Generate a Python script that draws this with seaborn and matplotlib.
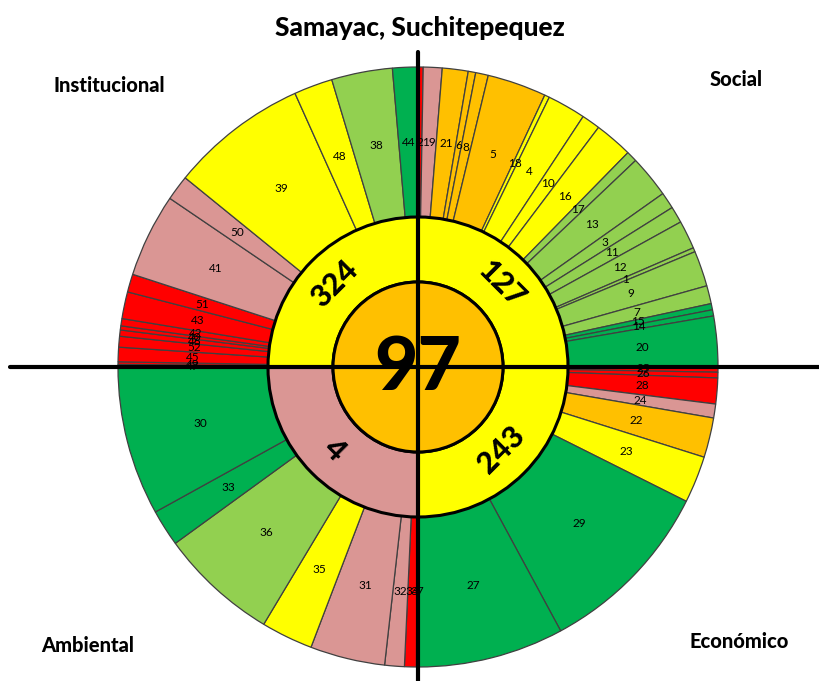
import matplotlib
matplotlib.use("Agg")
import matplotlib.pyplot as plt
import seaborn as sns
import numpy as np

sns.set_style("white")
plt.rcParams['font.family'] = ['Lato', 'DejaVu Sans']
plt.rcParams['text.color'] = 'black'

# colour scale used by the chart
RED, PINK, ORANGE, YELLOW, LGREEN, GREEN = '#FF0000', '#DA9694', '#FFC000', '#FFFF00', '#92D050', '#00B050'

# outer ring: indicator ids, angular share (degrees) and colour, clockwise from the top
social_ids = ['2', '19', '21', '6', '8', '5', '18', '4', '10', '16', '17', '13', '3', '11', '12', '1', '9', '7', '15', '14', '20']
social_vals = [1.0, 3.65, 5.0, 1.45, 2.45, 11.45, 0.95, 7.45, 3.6, 7.4, 2.1, 8.2, 3.2, 3.2, 5.5, 0.8, 6.9, 3.5, 1.2, 1.2, 9.8]
social_cols = [RED, PINK, ORANGE, ORANGE, ORANGE, ORANGE, YELLOW, YELLOW, YELLOW, YELLOW,
               LGREEN, LGREEN, LGREEN, LGREEN, LGREEN, LGREEN, LGREEN, LGREEN, GREEN, GREEN, GREEN]

econ_ids = ['25', '26', '28', '24', '22', '23', '29', '27']
econ_vals = [1.0, 1.1, 5.0, 2.7, 7.7, 9.1, 35.0, 28.4]
econ_cols = [RED, RED, RED, PINK, ORANGE, YELLOW, GREEN, GREEN]

amb_ids = ['37', '34', '32', '31', '35', '36', '33', '30']
amb_vals = [0.3, 2.3, 3.8, 14.5, 10.05, 23.05, 7.1, 28.9]
amb_cols = [RED, RED, PINK, PINK, YELLOW, LGREEN, GREEN, GREEN]

inst_ids = ['47', '49', '45', '52', '46', '40', '42', '43', '51', '41', '50', '39', '48', '38', '44']
inst_vals = [0.5, 0.5, 2.8, 2.1, 1.2, 0.8, 1.4, 5.2, 3.5, 16.2, 4.9, 26.7, 7.5, 11.8, 4.9]
inst_cols = [RED] * 9 + [PINK, PINK, YELLOW, YELLOW, LGREEN, GREEN]

# inner ring (dimensions) and centre
dim_names = ['Social', 'Económico', 'Ambiental', 'Institucional']
dim_vals = [127, 243, 4, 324]
dim_cols = [YELLOW, YELLOW, PINK, YELLOW]
total_val = 97
title = 'Samayac, Suchitepequez'

W, H = 819, 681
cx, cy = 418, H - 367
R_OUT, R_MID, R_IN = 300, 150, 85

fig = plt.figure(figsize=(W / 100, H / 100), dpi=100)
ax = fig.add_axes([0, 0, 1, 1])

outer_ids = social_ids + econ_ids + amb_ids + inst_ids
outer_vals = social_vals + econ_vals + amb_vals + inst_vals
outer_cols = social_cols + econ_cols + amb_cols + inst_cols

wedges, texts = ax.pie(outer_vals, labels=outer_ids, colors=outer_cols, startangle=90,
                       counterclock=False, radius=R_OUT, center=(cx, cy),
                       labeldistance=0.75,
                       wedgeprops=dict(width=R_OUT - R_MID, edgecolor='#404040', linewidth=0.9),
                       textprops=dict(fontsize=8.5, color='black'))
for t in texts:
    t.set_ha('center')
    t.set_va('center')

# inner ring
w2, _ = ax.pie([90, 90, 90, 90], colors=dim_cols, startangle=90, counterclock=False,
               radius=R_MID, center=(cx, cy),
               wedgeprops=dict(width=R_MID - R_IN, edgecolor='black', linewidth=2.2))
r_lab = (R_MID + R_IN) / 2
for w, v in zip(w2, dim_vals):
    mid = (w.theta1 + w.theta2) / 2
    rot = mid - 90
    while rot > 90:
        rot -= 180
    while rot <= -90:
        rot += 180
    x = cx + r_lab * np.cos(np.radians(mid))
    y = cy + r_lab * np.sin(np.radians(mid))
    ax.text(x, y, str(v), rotation=rot, ha='center', va='center', rotation_mode='anchor',
            fontsize=22, fontweight='black')

# centre disc
ax.pie([1], colors=[ORANGE], radius=R_IN, center=(cx, cy),
       wedgeprops=dict(edgecolor='black', linewidth=2.2))
ax.text(cx, cy - 2, str(total_val), ha='center', va='center', fontsize=54, fontweight='black')

# quadrant cross
ax.plot([10, W], [cy, cy], color='black', lw=3, zorder=5)
ax.plot([cx, cx], [0, H - 52], color='black', lw=3, zorder=5)

ax.text(W / 2 + 10, H - 28, title, ha='center', va='center', fontsize=19, fontweight='black')
ax.text(109, H - 85, dim_names[3], ha='center', va='center', fontsize=14.5, fontweight='black')
ax.text(736, H - 80, dim_names[0], ha='center', va='center', fontsize=14.5, fontweight='black')
ax.text(88, H - 646, dim_names[2], ha='center', va='center', fontsize=14.5, fontweight='black')
ax.text(739, H - 641, dim_names[1], ha='center', va='center', fontsize=14.5, fontweight='black')

ax.set_xlim(0, W)
ax.set_ylim(0, H)
ax.set_aspect('equal')
ax.axis('off')

fig.savefig('out.png', dpi=100)
